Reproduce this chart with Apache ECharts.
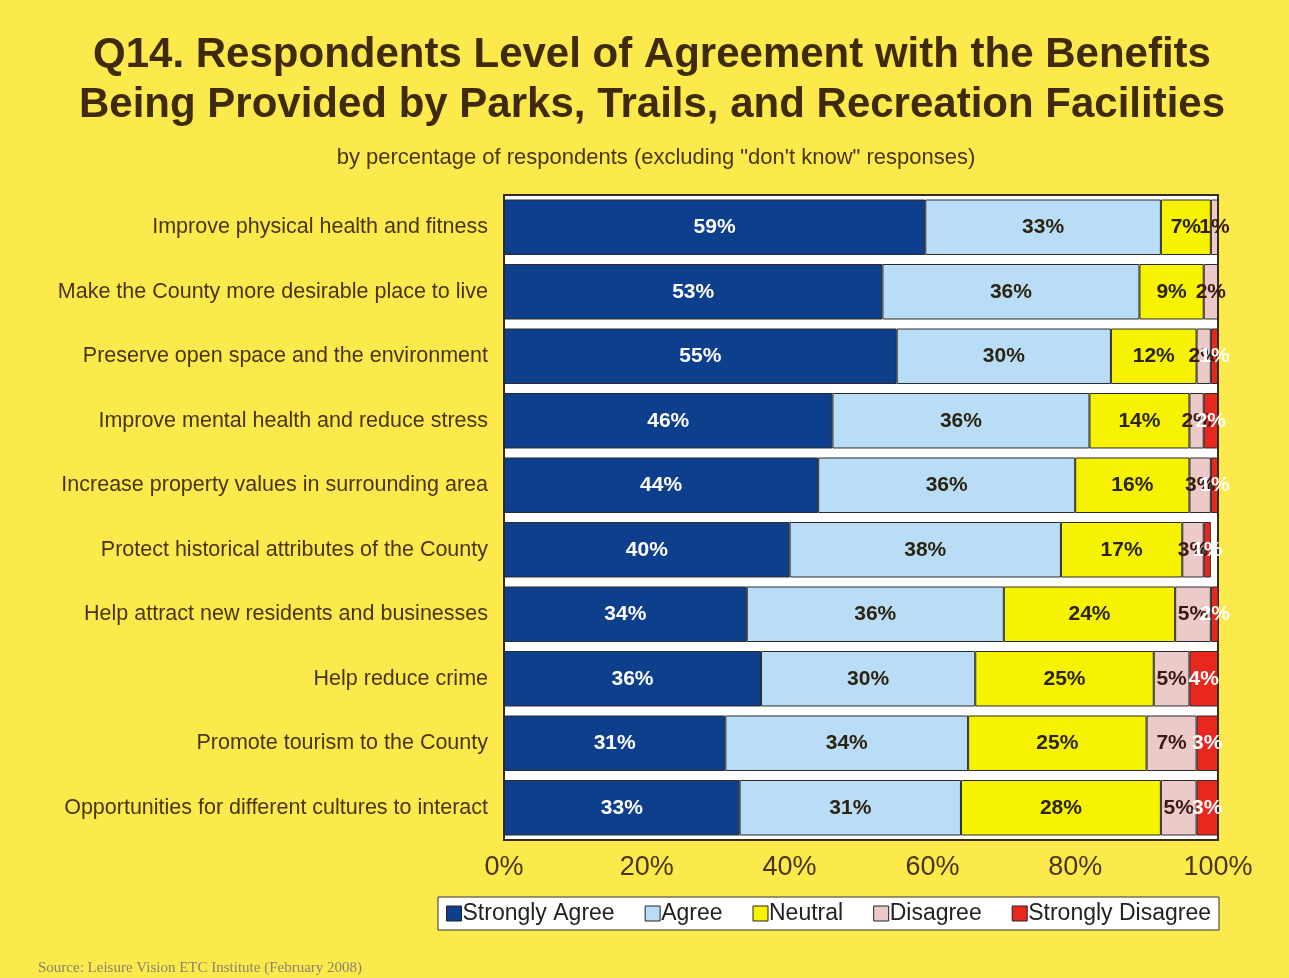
<!DOCTYPE html>
<html>
<head>
<meta charset="utf-8">
<script src="https://cdn.jsdelivr.net/npm/echarts@6/dist/echarts.min.js"></script>
<style>
  html, body { margin: 0; padding: 0; background: #fce94c; }
  #chart { width: 1289px; height: 978px; }
</style>
</head>
<body>
<div id="chart"></div>
<script>
var categories = [
    'Improve physical health and fitness',
    'Make the County more desirable place to live',
    'Preserve open space and the environment',
    'Improve mental health and reduce stress',
    'Increase property values in surrounding area',
    'Protect historical attributes of the County',
    'Help attract new residents and businesses',
    'Help reduce crime',
    'Promote tourism to the County',
    'Opportunities for different cultures to interact'
];
var stronglyAgree    = [59, 53, 55, 46, 44, 40, 34, 36, 31, 33];
var agree            = [33, 36, 30, 36, 36, 38, 36, 30, 34, 31];
var neutral          = [7, 9, 12, 14, 16, 17, 24, 25, 25, 28];
var disagree         = [1, 2, 2, 2, 3, 3, 5, 5, 7, 5];
var stronglyDisagree = [1, 1, 1, 2, 1, 1, 2, 4, 3, 3];
var xTicks = [0, 20, 40, 60, 80, 100];

var textCol = '#4a3414';
var dom = document.getElementById('chart');
var myChart = echarts.init(dom, null, { renderer: 'canvas' });

function makeSeries(name, data, color, labelColor) {
    return {
        name: name,
        type: 'bar',
        stack: 'total',
        data: data,
        barCategoryGap: '14%',
        itemStyle: { color: color, borderColor: '#2a2a2a', borderWidth: 1 },
        label: {
            show: true,
            position: 'inside',
            formatter: '{c}%',
            color: labelColor,
            fontFamily: 'Liberation Sans',
            fontWeight: 'bold',
            fontSize: 21
        }
    };
}

var option = {
    backgroundColor: '#fce94c',
    animation: false,
    title: [
        {
            text: 'Q14. Respondents Level of Agreement with the Benefits\nBeing Provided by Parks, Trails, and Recreation Facilities',
            left: 647,
            textAlign: 'center',
            top: 25,
            textStyle: {
                fontFamily: 'Liberation Sans',
                fontSize: 42,
                fontWeight: 'bold',
                color: '#3f2a0c',
                lineHeight: 50
            }
        },
        {
            text: 'by percentage of respondents (excluding "don\'t know" responses)',
            left: 651,
            textAlign: 'center',
            top: 142,
            textStyle: { fontFamily: 'Liberation Sans', fontSize: 22, fontWeight: 'normal', color: textCol }
        },
        {
            text: 'Source: Leisure Vision ETC Institute (February 2008)',
            left: 33,
            top: 956,
            textStyle: { fontFamily: 'Liberation Serif', fontSize: 15, fontWeight: 'normal', color: '#8a8470' }
        }
    ],
    legend: {
        left: 438,
        top: 897,
        width: 784,
        padding: [5, 8, 5, 8],
        backgroundColor: '#ffffff',
        borderColor: '#333',
        borderWidth: 1,
        itemWidth: 15,
        itemHeight: 15,
        itemGap: 30,
        icon: 'rect',
        textStyle: { fontFamily: 'Liberation Sans', fontSize: 23, color: '#222', padding: [0, 0, 0, -4] },
        itemStyle: { borderColor: '#222', borderWidth: 1 }
    },
    grid: {
        left: 504,
        right: 71,
        top: 195,
        bottom: 138,
        show: true,
        backgroundColor: '#ffffff',
        borderColor: '#3a2a1a',
        borderWidth: 2
    },
    xAxis: {
        type: 'value',
        min: 0,
        max: 100,
        interval: 20,
        axisLine: { show: false },
        axisTick: { show: false },
        splitLine: { show: false },
        axisLabel: {
            formatter: function (v) { return xTicks.indexOf(v) >= 0 ? v + '%' : ''; },
            fontFamily: 'Liberation Sans',
            fontSize: 27,
            color: textCol,
            margin: 14
        }
    },
    yAxis: {
        type: 'category',
        inverse: true,
        data: categories,
        axisLine: { show: false },
        axisTick: { show: false },
        axisLabel: {
            fontFamily: 'Liberation Sans',
            fontSize: 21.5,
            color: textCol,
            margin: 16
        }
    },
    series: [
        makeSeries('Strongly Agree', stronglyAgree, '#0e3f8c', '#ffffff'),
        makeSeries('Agree', agree, '#b9ddf6', '#2a2410'),
        makeSeries('Neutral', neutral, '#f6f200', '#2a2410'),
        makeSeries('Disagree', disagree, '#edcaca', '#3a1a10'),
        makeSeries('Strongly Disagree', stronglyDisagree, '#e8281e', '#ffffff')
    ]
};

if (option && typeof option === 'object') {
    myChart.setOption(option);
}

window.addEventListener('resize', myChart.resize);
</script>
</body>
</html>
